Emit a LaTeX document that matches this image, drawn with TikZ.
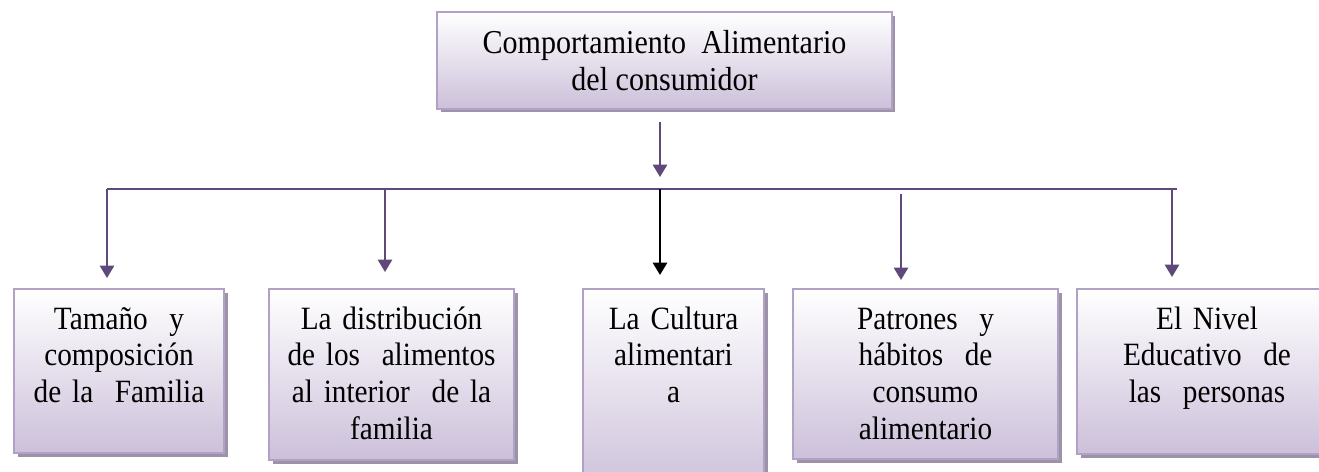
\documentclass[tikz,border=0pt]{standalone}
\usepackage{fontspec}
\setmainfont{Liberation Serif}[FakeStretch=0.9]
\usetikzlibrary{arrows.meta,positioning,shadows}
\definecolor{boxline}{HTML}{B2A1C7}
\definecolor{boxfill}{HTML}{CCC0DA}
\definecolor{boxshadow}{HTML}{9D93A8}
\definecolor{linkcol}{HTML}{5F497A}
\tikzset{%
	root/.style     = {draw=boxline, line width=1.2pt, top color=white, bottom color=boxfill,
	                   drop shadow={opacity=1, fill=boxshadow, shadow xshift=0.07cm, shadow yshift=-0.07cm},
	                   align=center, font=\fontsize{19}{21}\selectfont},
	factor/.style   = {root, anchor=north west, inner xsep=0.1cm, inner ysep=0pt, text height=0.8cm,
	                   font=\fontsize{18.5}{21}\selectfont}, % lower boxes
	link/.style     = {draw=linkcol, line width=1.3pt, -{Triangle[width=8pt,length=7pt]}},
	bar/.style      = {draw=linkcol, line width=1.3pt},
}
\begin{document}
\begin{tikzpicture}[x=0.02cm, y=-0.02cm]
	\useasboundingbox (0,0) rectangle (1319,471);
	\node[root, minimum width=9.1cm, minimum height=1.94cm] (top) at (664.5,60.5) {Comportamiento\ \ Alimentario\\del consumidor};
	\node[factor, text width=4.0cm, text depth=2.48cm] (f1) at (13,288) {Tamaño\ \ y\\composición\\de la\ \ Familia};
	\node[factor, text width=4.7cm, text depth=2.62cm] (f2) at (268,288) {La distribución\\de los\ \ alimentos\\al interior\ \ de la\\familia};
	\node[factor, text width=3.42cm, text depth=3.3cm] (f3) at (582,288) {La Cultura\\alimentari\\a};
	\node[factor, text width=5.1cm, text depth=2.60cm] (f4) at (792,288) {Patrones\ \ y\\hábitos\ \ de\\consumo\\alimentario};
	\node[factor, text width=5.0cm, text depth=2.50cm] (f5) at (1076,288) {El Nivel\\Educativo\ \ de\\las\ \ personas};
	% bar under the root box
	\coordinate (barL) at (107,189);
	\coordinate (barR) at (1177,189);
	\draw[bar] (barL) -- (barR);
	\coordinate (b1) at (107,189);
	\coordinate (b2) at (385,189);
	\coordinate (b3) at (660,189);
	\coordinate (b4) at (901,194);
	\coordinate (b5) at (1172,189);
	\draw[link, shorten <=0.24cm, shorten >=0.24cm] (top.south -| b3) -- (b3);
	\draw[link, shorten >=0.2cm] (b1) -- (b1 |- f1.north);
	\draw[link, shorten >=0.32cm] (b2) -- (b2 |- f2.north);
	\draw[link, draw=black, shorten >=0.26cm] (b3) -- (b3 |- f3.north);
	\draw[link, shorten >=0.16cm] (b4) -- (b4 |- f4.north);
	\draw[link, shorten >=0.22cm] (b5) -- (b5 |- f5.north);
\end{tikzpicture}
\end{document}
